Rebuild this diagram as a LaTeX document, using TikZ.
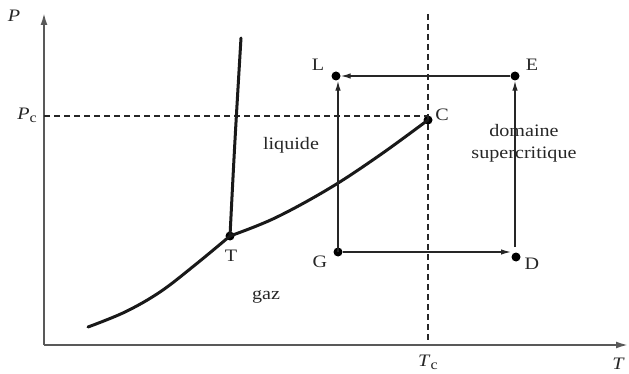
\documentclass[tikz,border=0pt]{standalone}
\usepackage{fontspec}
\setmainfont{Liberation Serif}[FakeStretch=1.15]
\usetikzlibrary{arrows.meta}
\begin{document}
\begin{tikzpicture}[x=1pt,y=-1pt,
  axis/.style={draw=black!65,line width=1.9pt},
  guide/.style={draw=black!85,line width=1.7pt,dash pattern=on 6pt off 4pt},
  curve/.style={draw=black!90,line width=3pt,line cap=round,line join=round},
  path/.style={draw=black!85,line width=1.3pt,-{Latex[length=10pt,width=5.5pt]}},
  dot/.style={circle,fill=black,inner sep=0pt,minimum size=9pt},
  lbl/.style={font=\fontsize{17.5}{19}\selectfont,text=black!85,inner sep=0pt}]
\useasboundingbox (0,0) rectangle (629,374);
% axes
\coordinate (O) at (44,345);
\coordinate (Ptop) at (44,13);
\coordinate (Tright) at (628,345);
\draw[axis,-{Latex[length=12pt,width=7pt]}] (O) -- (Ptop);
\draw[axis,-{Latex[length=12pt,width=7pt]}] (O) -- (Tright);
\node[lbl,font=\fontsize{17.5}{19}\selectfont\itshape] (Plab) at (14,16) {P};
\node[lbl] (Pclab) at (27,115) {\textit{P}{\fontsize{14}{14}\selectfont\raisebox{-3pt}{c}}};
\node[lbl] (Tclab) at (428,362) {\textit{T}{\fontsize{14}{14}\selectfont\raisebox{-3pt}{c}}};
\node[lbl,font=\fontsize{17.5}{19}\selectfont\itshape] (Tlab) at (618,364) {T};
% guides
\coordinate (Pc0) at (44,116);
\coordinate (Tc0) at (428,14);
\coordinate (Tc1) at (428,340);
\node[dot] (C) at (428,120) {};
\draw[guide] (Pc0) -- (Pc0 -| C);
\draw[guide] (Tc0) -- (Tc1);
% phase curves
\node[dot] (T) at (230,236) {};
\draw[curve] plot[smooth,tension=0.6] coordinates {(88,327) (125,312) (160,292) (195,265) (230,236)};
\draw[curve] plot[smooth,tension=0.6] coordinates {(230,236) (275,218) (330,188) (380,155) (428,120)};
\draw[curve] plot[smooth,tension=0.6] coordinates {(230,236) (235,140) (241,38)};
% transformation points
\node[dot] (L) at (336,76) {};
\node[dot] (E) at (515,76) {};
\node[dot] (G) at (338,252) {};
\node[dot] (D) at (516,257) {};
\coordinate (Dtop) at (515,247);
\coordinate (Dleft) at (511,252);
\draw[path] (G.center) -- (G.center |- L.south);
\draw[path] (E.west) -- (L.east);
\draw[path] (Dtop) -- (E.south);
\draw[path] (G.east) -- (Dleft);
% labels
\node[lbl] (Llab) at (318,65) {L};
\node[lbl] (Elab) at (532,65) {E};
\node[lbl] (Clab) at (442,115) {C};
\node[lbl] (Glab) at (320,262) {G};
\node[lbl] (Dlab) at (532,264) {D};
\node[lbl] (Tpt) at (231,256) {T};
\node[lbl] (liq) at (291,145) {liquide};
\node[lbl] (gaz) at (266,297) {gaz};
\node[lbl] (dom) at (524,131) {domaine};
\node[lbl] (sup) at (524,155) {supercritique};
\end{tikzpicture}
\end{document}
